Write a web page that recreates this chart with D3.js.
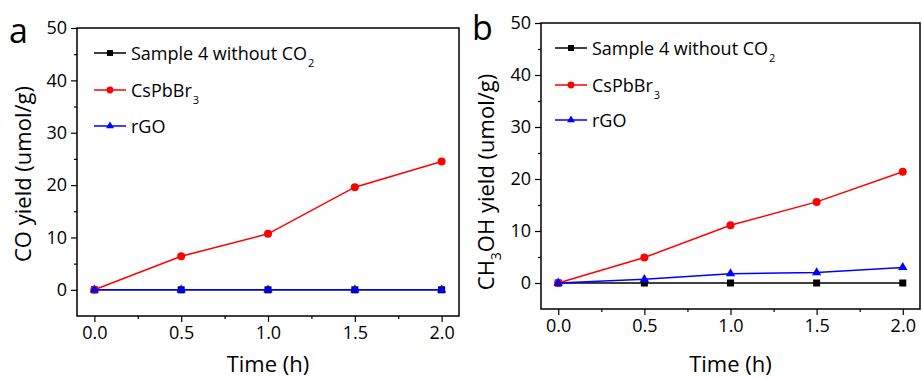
<!DOCTYPE html>
<html><head><meta charset="utf-8">
<script src="https://cdn.jsdelivr.net/npm/d3@7"></script>
<style>body{margin:0;background:#fff;} svg{display:block;font-family:"Open Sans",sans-serif;}</style>
</head><body>
<svg id="c" width="922" height="379"></svg>
<script>
const times = [0, 0.5, 1.0, 1.5, 2.0];
const xTicks = [0, 0.5, 1.0, 1.5, 2.0];
const yTicks = [0, 10, 20, 30, 40, 50];
// Panel a: CO yield
const coNoCO2 = [0, 0, 0, 0, 0];
const coCsPbBr3 = [0, 6.4, 10.7, 19.6, 24.5];
const coRGO = [0, 0, 0, 0, 0];
// Panel b: CH3OH yield
const meNoCO2 = [0, 0, 0, 0, 0];
const meCsPbBr3 = [0, 4.9, 11.1, 15.6, 21.4];
const meRGO = [0, 0.7, 1.8, 2.0, 3.0];

const svg = d3.select("#c");

function panel(o) {
  const g = svg.append("g");
  const x = d3.scaleLinear().domain([-0.1, 2.1]).range([o.left, o.right]);
  const y = d3.scaleLinear().domain([-5, 50]).range([o.bottom, o.top]);
  g.append("rect").attr("x", o.left).attr("y", o.top)
    .attr("width", o.right - o.left).attr("height", o.bottom - o.top)
    .attr("fill", "none").attr("stroke", "#000").attr("stroke-width", 1.5);
  g.append("g").attr("transform", `translate(0,${o.bottom})`)
    .call(d3.axisBottom(x).tickValues(xTicks).tickFormat(d3.format(".1f")).tickSize(6).tickPadding(4));
  g.append("g").attr("transform", `translate(0,${o.bottom})`)
    .call(d3.axisBottom(x).tickValues([0.25, 0.75, 1.25, 1.75]).tickFormat("").tickSize(3));
  g.append("g").attr("transform", `translate(${o.left},0)`)
    .call(d3.axisLeft(y).tickValues(yTicks).tickSize(6).tickPadding(4));
  g.append("g").attr("transform", `translate(${o.left},0)`)
    .call(d3.axisLeft(y).tickValues([5, 15, 25, 35, 45]).tickFormat("").tickSize(3));
  g.selectAll(".domain").remove();
  g.selectAll(".tick line").attr("stroke", "#000").attr("stroke-width", 1.2);
  g.selectAll(".tick text").attr("font-size", 18).attr("font-family", "Open Sans, sans-serif").attr("fill", "#000");

  const series = [
    {vals: o.black, color: "#000", shape: "square", name: "Sample 4 without CO", sub: "2"},
    {vals: o.red, color: "#ff0000", shape: "circle", name: "CsPbBr", sub: "3"},
    {vals: o.blue, color: "#0000ff", shape: "triangle", name: "rGO", sub: null}
  ];
  const line = d3.line().x((d, i) => x(times[i])).y(d => y(d));
  function marker(sel, shape, color, sc) {
    if (shape === "square") {
      sel.append("rect").attr("x", -3.5 * sc).attr("y", -3.5 * sc).attr("width", 7 * sc).attr("height", 7 * sc).attr("fill", color);
    } else if (shape === "circle") {
      sel.append("circle").attr("r", 4 * sc).attr("fill", color);
    } else {
      sel.append("path").attr("d", d3.symbol(d3.symbolTriangle, 38 * sc * sc)()).attr("fill", color);
    }
  }
  series.forEach(s => {
    g.append("path").datum(s.vals).attr("d", line).attr("fill", "none")
      .attr("stroke", s.color).attr("stroke-width", 1.5);
    s.vals.forEach((v, i) => {
      const m = g.append("g").attr("transform", `translate(${x(times[i])},${y(v)})`);
      marker(m, s.shape, s.color, 1);
    });
  });
  series.forEach((s, k) => {
    const ly = o.legY[k];
    g.append("line").attr("x1", o.legX).attr("x2", o.legX + 32).attr("y1", ly).attr("y2", ly)
      .attr("stroke", s.color).attr("stroke-width", 1.5);
    const m = g.append("g").attr("transform", `translate(${o.legX + 16},${ly})`);
    marker(m, s.shape, s.color, 0.85);
    const t = g.append("text").attr("x", o.legX + 37).attr("y", ly + 6.5).attr("font-size", 18).text(s.name);
    if (s.sub) t.append("tspan").attr("font-size", 11).attr("dx", 1).attr("dy", 7).text(s.sub);
  });
  g.append("text").attr("x", (o.left + o.right) / 2).attr("y", 372).attr("text-anchor", "middle")
    .attr("font-size", 22).text("Time (h)");
  const yt = g.append("text").attr("transform", `translate(${o.ytX},${o.ytY}) rotate(-90)`)
    .attr("text-anchor", "middle").attr("font-size", 22);
  o.yTitle(yt);
  g.append("text").attr("x", o.letterX).attr("y", o.letterY).attr("font-size", 34).text(o.letter);
}

panel({left: 77, right: 459, top: 28, bottom: 316, black: coNoCO2, red: coCsPbBr3, blue: coRGO,
  legX: 94, legY: [53, 90, 126], ytX: 31, ytY: 174, letter: "a", letterX: 9, letterY: 43,
  yTitle: t => t.text("CO yield (umol/g)")});
panel({left: 541, right: 920, top: 23, bottom: 309, black: meNoCO2, red: meCsPbBr3, blue: meRGO,
  legX: 555, legY: [48, 85, 120], ytX: 494, ytY: 182, letter: "b", letterX: 472, letterY: 40,
  yTitle: t => { t.append("tspan").text("CH"); t.append("tspan").attr("font-size", 14).attr("dy", 7).text("3");
    t.append("tspan").attr("dy", -7).text("OH yield (umol/g)"); }});
</script>
</body></html>
